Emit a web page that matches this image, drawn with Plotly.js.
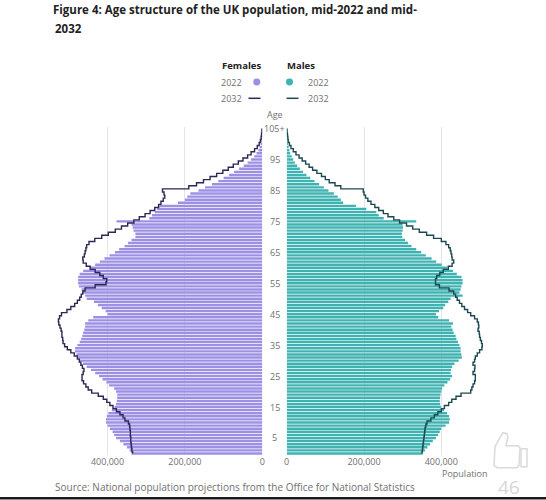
<!DOCTYPE html>
<html>
<head>
<meta charset="utf-8">
<script src="https://cdn.plot.ly/plotly-3.0.1.min.js"></script>
<style>html,body{margin:0;padding:0;background:#fff;}#chart{width:546px;height:500px;}</style>
</head>
<body>
<div id="chart"></div>
<script>
// Ages 0..105 (105 = 105+)
const ages = Array.from({length: 106}, (_, i) => i);
const ageTickVals = [5, 15, 25, 35, 45, 55, 65, 75, 85, 95, 105];
const ageTickText = ['5', '15', '25', '35', '45', '55', '65', '75', '85', '95', '105+'];
const popTickVals = [0, 200000, 400000];
const popTickText = ['0', '200,000', '400,000'];

// Population in thousands
const females2022 = [
  338, 343, 350, 359, 368, 378, 383, 387, 394, 400,
  404, 404, 402, 398, 389, 382, 378, 376, 375, 375,
  378, 383, 396, 403, 413, 422, 432, 443, 454, 464,
  471, 476, 480, 484, 484, 478, 472, 468, 465, 463,
  460, 458, 458, 450, 437, 400, 405, 415, 425, 435,
  454, 458, 465, 467, 474, 476, 476, 476, 472, 463,
  446, 432, 420, 408, 395, 381, 370, 356, 347, 338,
  328, 328, 333, 335, 338, 377, 292, 285, 278, 272,
  266, 218, 200, 194, 186, 165, 148, 130, 114, 100,
  86, 73, 60, 48, 38, 29, 21, 15, 10, 7,
  4, 3, 2, 1, 1, 1
];
const females2032 = [
  335, 337, 338, 339, 340, 340, 341, 341, 342, 343,
  346, 355, 360, 368, 377, 386, 394, 402, 411, 424,
  441, 450, 456, 462, 466, 466, 463, 461, 465, 469,
  473, 478, 486, 495, 504, 511, 515, 516, 518, 518,
  520, 523, 526, 527, 524, 519, 505, 495, 485, 478,
  472, 468, 464, 458, 432, 404, 402, 411, 420, 432,
  445, 455, 463, 464, 460, 458, 456, 454, 448, 433,
  415, 398, 380, 364, 348, 332, 318, 303, 290, 278,
  268, 262, 256, 252, 254, 258, 190, 170, 152, 135,
  118, 102, 88, 75, 62, 50, 38, 29, 20, 13,
  8, 5, 3, 2, 1, 1
];
const males2022 = [
  352, 358, 364, 371, 378, 386, 392, 396, 400, 411,
  420, 422, 420, 415, 407, 399, 397, 396, 397, 398,
  400, 402, 408, 416, 423, 428, 424, 425, 428, 434,
  445, 453, 452, 450, 450, 447, 443, 439, 437, 432,
  429, 426, 430, 420, 392, 386, 394, 405, 410, 418,
  424, 455, 447, 450, 452, 455, 455, 452, 440, 430,
  416, 401, 387, 375, 360, 348, 335, 323, 314, 306,
  299, 298, 300, 301, 300, 335, 251, 238, 232, 206,
  179, 146, 140, 132, 122, 108, 96, 84, 72, 61,
  51, 42, 34, 27, 21, 17, 13, 9, 7, 5,
  3, 2, 1, 1, 0.5, 0.5
];
const males2032 = [
  350, 351, 352, 353, 354, 355, 356, 357, 358, 360,
  363, 373, 382, 391, 400, 408, 419, 427, 438, 451,
  476, 479, 482, 486, 488, 488, 482, 486, 487, 482,
  486, 488, 493, 499, 505, 506, 504, 501, 499, 498,
  495, 497, 496, 493, 486, 476, 468, 460, 453, 447,
  441, 437, 432, 420, 395, 385, 385, 388, 396, 405,
  418, 428, 432, 428, 427, 425, 423, 419, 412, 400,
  380, 362, 343, 326, 310, 292, 277, 262, 250, 238,
  228, 218, 210, 204, 200, 198, 140, 125, 110, 100,
  90, 78, 67, 58, 49, 40, 32, 24, 17, 11,
  7, 4, 3, 2, 1, 1
];

const FEMALE = '#9d90e4';
const MALE = '#3fb3b2';
const FEMALE_LINE = '#2a2955';
const MALE_LINE = '#1c4850';
const GREY = '#707070';
const FONT = 'Open Sans, Noto Sans, sans-serif';

// layout geometry (pixels)
const W = 546, H = 500, L = 53, R = 53, T = 126.75, B = 44.65;
const plotW = W - L - R, plotH = H - T - B;
const px = x => (x - L) / plotW;
const py = y => (H - B - y) / plotH;

const k = v => v * 1000;

const traces = [
  {type: 'bar', orientation: 'h', x: females2022.map(k), y: ages, xaxis: 'x', yaxis: 'y',
   marker: {color: FEMALE, line: {width: 0}}, name: 'Females 2022', hoverinfo: 'x+y'},
  {type: 'bar', orientation: 'h', x: males2022.map(k), y: ages, xaxis: 'x2', yaxis: 'y',
   marker: {color: MALE, line: {width: 0}}, name: 'Males 2022', hoverinfo: 'x+y'},
  {type: 'scatter', mode: 'lines', x: females2032.map(k), y: ages, xaxis: 'x', yaxis: 'y',
   line: {color: FEMALE_LINE, width: 1.4, shape: 'vhv'}, name: 'Females 2032'},
  {type: 'scatter', mode: 'lines', x: males2032.map(k), y: ages, xaxis: 'x2', yaxis: 'y',
   line: {color: MALE_LINE, width: 1.4, shape: 'vhv'}, name: 'Males 2032'}
];

const xCommon = {
  tickvals: popTickVals, ticktext: popTickText,
  showgrid: true, gridcolor: '#e4e4e4', gridwidth: 1,
  zeroline: false, showline: false, ticks: '',
  tickfont: {family: FONT, size: 9, color: GREY},
  fixedrange: true, anchor: 'y'
};

const annotations = [];
// age tick labels in the centre column
ageTickVals.forEach((v, i) => {
  annotations.push({xref: 'paper', yref: 'y', x: px(274.5), y: v, text: ageTickText[i],
    showarrow: false, xanchor: 'center', yanchor: 'middle',
    font: {family: FONT, size: 9, color: GREY}});
});
const txt = (x, y, text, opts) => Object.assign({xref: 'paper', yref: 'paper', x: px(x), y: py(y),
  text: text, showarrow: false, yanchor: 'middle',
  font: {family: FONT, size: 9, color: GREY}}, opts || {});

annotations.push(txt(274.5, 114, 'Age', {xanchor: 'center'}));
annotations.push(txt(490, 473.5, 'Population', {xanchor: 'right'}));
annotations.push(txt(53, 28, '<b>2032</b>', {xanchor: 'left', font: {family: FONT, size: 11.5, color: '#222'}}));
annotations.push(txt(241.5, 65, '<b>Females</b>', {xanchor: 'center', font: {family: FONT, size: 9.5, color: '#222'}}));
annotations.push(txt(300.5, 65, '<b>Males</b>', {xanchor: 'center', font: {family: FONT, size: 9.5, color: '#222'}}));
annotations.push(txt(243.5, 81.7, '2022', {xanchor: 'right'}));
annotations.push(txt(243.5, 98, '2032', {xanchor: 'right'}));
annotations.push(txt(306, 81.7, '2022', {xanchor: 'left'}));
annotations.push(txt(306, 98, '2032', {xanchor: 'left'}));
annotations.push(txt(53, 487, 'Source: National population projections from the Office for National Statistics',
  {xanchor: 'left', font: {family: FONT, size: 10, color: GREY}}));
annotations.push(txt(509, 487.5, '46', {xanchor: 'center', font: {family: FONT, size: 19, color: '#d6d6d6'}}));

// decorative thumbs-up outline (pixel points converted to paper coords)
const iconPts = (pts) => pts.map(p => (typeof p === 'string') ? p : (px(p[0]).toFixed(5) + ',' + py(p[1]).toFixed(5))).join(' ');
const handPath = iconPts(['M', [495, 447], 'L', [500, 438], 'L', [503, 433], 'L', [507, 434], 'L', [508, 437],
  'L', [506, 446], 'L', [518, 446], 'L', [520, 448], 'L', [519, 466], 'L', [517, 468], 'L', [497, 468],
  'L', [494, 466], 'Z']);
const cuffPath = iconPts(['M', [521, 449], 'L', [527, 449], 'L', [527, 467], 'L', [521, 467], 'Z']);

const r = 3.5;
const shapes = [
  {type: 'circle', xref: 'paper', yref: 'paper', x0: px(256.8 - r), x1: px(256.8 + r), y0: py(81.7 + r), y1: py(81.7 - r),
   fillcolor: FEMALE, line: {width: 0}},
  {type: 'circle', xref: 'paper', yref: 'paper', x0: px(289.5 - r), x1: px(289.5 + r), y0: py(81.7 + r), y1: py(81.7 - r),
   fillcolor: MALE, line: {width: 0}},
  {type: 'line', xref: 'paper', yref: 'paper', x0: px(248.5), x1: px(260.5), y0: py(98), y1: py(98),
   line: {color: FEMALE_LINE, width: 1.5}},
  {type: 'line', xref: 'paper', yref: 'paper', x0: px(286.5), x1: px(298.5), y0: py(98), y1: py(98),
   line: {color: MALE_LINE, width: 1.5}},
  {type: 'path', xref: 'paper', yref: 'paper', path: handPath, line: {color: '#dadada', width: 1.5}},
  {type: 'path', xref: 'paper', yref: 'paper', path: cuffPath, line: {color: '#dadada', width: 1.5}},
  {type: 'rect', xref: 'paper', yref: 'paper', x0: px(0), x1: px(W), y0: py(500), y1: py(497.5),
   fillcolor: '#1a1a1a', line: {width: 0}}
];

const layout = {
  width: W, height: H,
  margin: {l: L, r: R, t: T, b: B, pad: 0},
  paper_bgcolor: '#fff', plot_bgcolor: '#fff',
  showlegend: false,
  bargap: 0.22,
  title: {text: '<b>Figure 4: Age structure of the UK population, mid-2022 and mid-</b>',
    xref: 'container', yref: 'container', x: 53 / W, xanchor: 'left', y: 1 - 9.5 / H, yanchor: 'middle',
    font: {family: FONT, size: 11.5, color: '#222'}},
  xaxis: Object.assign({}, xCommon, {domain: [0, px(262.3)], range: [541000, 0], autorange: false}),
  xaxis2: Object.assign({}, xCommon, {domain: [px(286.7), 1], range: [0, 533700], autorange: false}),
  yaxis: {range: [-0.5, 105.5], autorange: false, showticklabels: false, showgrid: false,
    zeroline: false, showline: false, ticks: '', fixedrange: true},
  annotations: annotations,
  shapes: shapes
};

Plotly.newPlot('chart', traces, layout, {displayModeBar: false, staticPlot: true});
</script>
</body>
</html>
